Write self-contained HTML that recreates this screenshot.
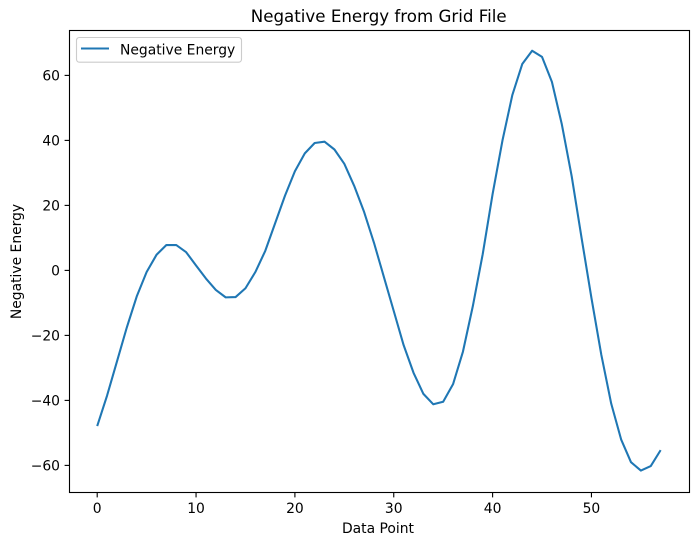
<!DOCTYPE html>
<html>
<head>
<meta charset="utf-8">
<title>Negative Energy from Grid File</title>
<style>
html,body{margin:0;padding:0;background:#fff;width:698px;height:545px;overflow:hidden}
svg{display:block}
text{font-family:"DejaVu Sans","Liberation Sans",sans-serif;fill:#000}
</style>
</head>
<body>
<svg id="chart" xmlns="http://www.w3.org/2000/svg" width="698" height="545" viewBox="0 0 698 545">
  <rect x="0" y="0" width="698" height="545" fill="#fff"/>
  <g id="ticks"></g>
  <path id="series" fill="none" stroke="#1f77b4" stroke-width="2.08" stroke-linejoin="round" stroke-linecap="butt"/>
  <rect x="69.5" y="30.5" width="620" height="462" fill="none" stroke="#000" stroke-width="1.11"/>
  <text x="378.7" y="22" font-size="16.67" text-anchor="middle">Negative Energy from Grid File</text>
  <text x="378" y="533" font-size="13.89" text-anchor="middle">Data Point</text>
  <text transform="translate(21 261.5) rotate(-90)" font-size="13.89" text-anchor="middle">Negative Energy</text>
  <g>
    <rect x="76.5" y="37.5" width="165" height="24.7" rx="2.8" fill="#fff" fill-opacity="0.8" stroke="#ccc" stroke-width="1.11"/>
    <line x1="81" y1="48.5" x2="109" y2="48.5" stroke="#1f77b4" stroke-width="2.08"/>
    <text x="120" y="54.5" font-size="13.89">Negative Energy</text>
  </g>
</svg>
<script>
const xTicks = [0, 10, 20, 30, 40, 50];
const yTicks = [-60, -40, -20, 0, 20, 40, 60];
const negativeEnergy = [
  -47.9, -38.5, -28, -17.5, -8, -0.5, 4.8, 7.8, 7.8, 5.6,
  1.5, -2.5, -6, -8.3, -8.2, -5.5, -0.5, 6, 14.5, 23,
  30.5, 36, 39.2, 39.6, 37.2, 32.8, 26, 18, 8.5, -2,
  -12.5, -23, -31.5, -38, -41.2, -40.4, -35, -25, -11, 5,
  23.5, 40, 54, 63.5, 67.6, 65.7, 58, 45, 29, 10,
  -8.5, -26, -41, -52, -59, -61.6, -60.2, -55.3
];

const NS = 'http://www.w3.org/2000/svg';
const xScale = function (v) { return 97.2 + v * 9.885; };
const yScale = function (v) { return 270.4 - v * 3.25; };
const tickGroup = document.getElementById('ticks');

function label(v) {
  return String(v).replace('-', '\u2212');
}

xTicks.forEach(function (t) {
  const x = xScale(t);
  const mark = document.createElementNS(NS, 'line');
  
  
  mark.setAttribute('x1', x);
  mark.setAttribute('x2', x);
  mark.setAttribute('y1', 492.5);
  mark.setAttribute('y2', 497.4);
  mark.setAttribute('stroke', '#000');
  mark.setAttribute('stroke-width', 1.11);
  tickGroup.appendChild(mark);
  const text = document.createElementNS(NS, 'text');
  
  
  text.setAttribute('x', x);
  text.setAttribute('y', 513);
  text.setAttribute('font-size', 13.89);
  text.setAttribute('text-anchor', 'middle');
  text.textContent = label(t);
  tickGroup.appendChild(text);
});

yTicks.forEach(function (t) {
  const y = yScale(t);
  const mark = document.createElementNS(NS, 'line');
  
  
  mark.setAttribute('x1', 64.6);
  mark.setAttribute('x2', 69.5);
  mark.setAttribute('y1', y);
  mark.setAttribute('y2', y);
  mark.setAttribute('stroke', '#000');
  mark.setAttribute('stroke-width', 1.11);
  tickGroup.appendChild(mark);
  const text = document.createElementNS(NS, 'text');
  
  
  text.setAttribute('x', 60);
  text.setAttribute('y', y + 5);
  text.setAttribute('font-size', 13.89);
  text.setAttribute('text-anchor', 'end');
  text.textContent = label(t);
  tickGroup.appendChild(text);
});

document.getElementById('series').setAttribute('d', negativeEnergy.map(function (v, i) {
  return (i ? 'L' : 'M') + xScale(i).toFixed(2) + ' ' + yScale(v).toFixed(2);
}).join(' '));
</script>
</body>
</html>
